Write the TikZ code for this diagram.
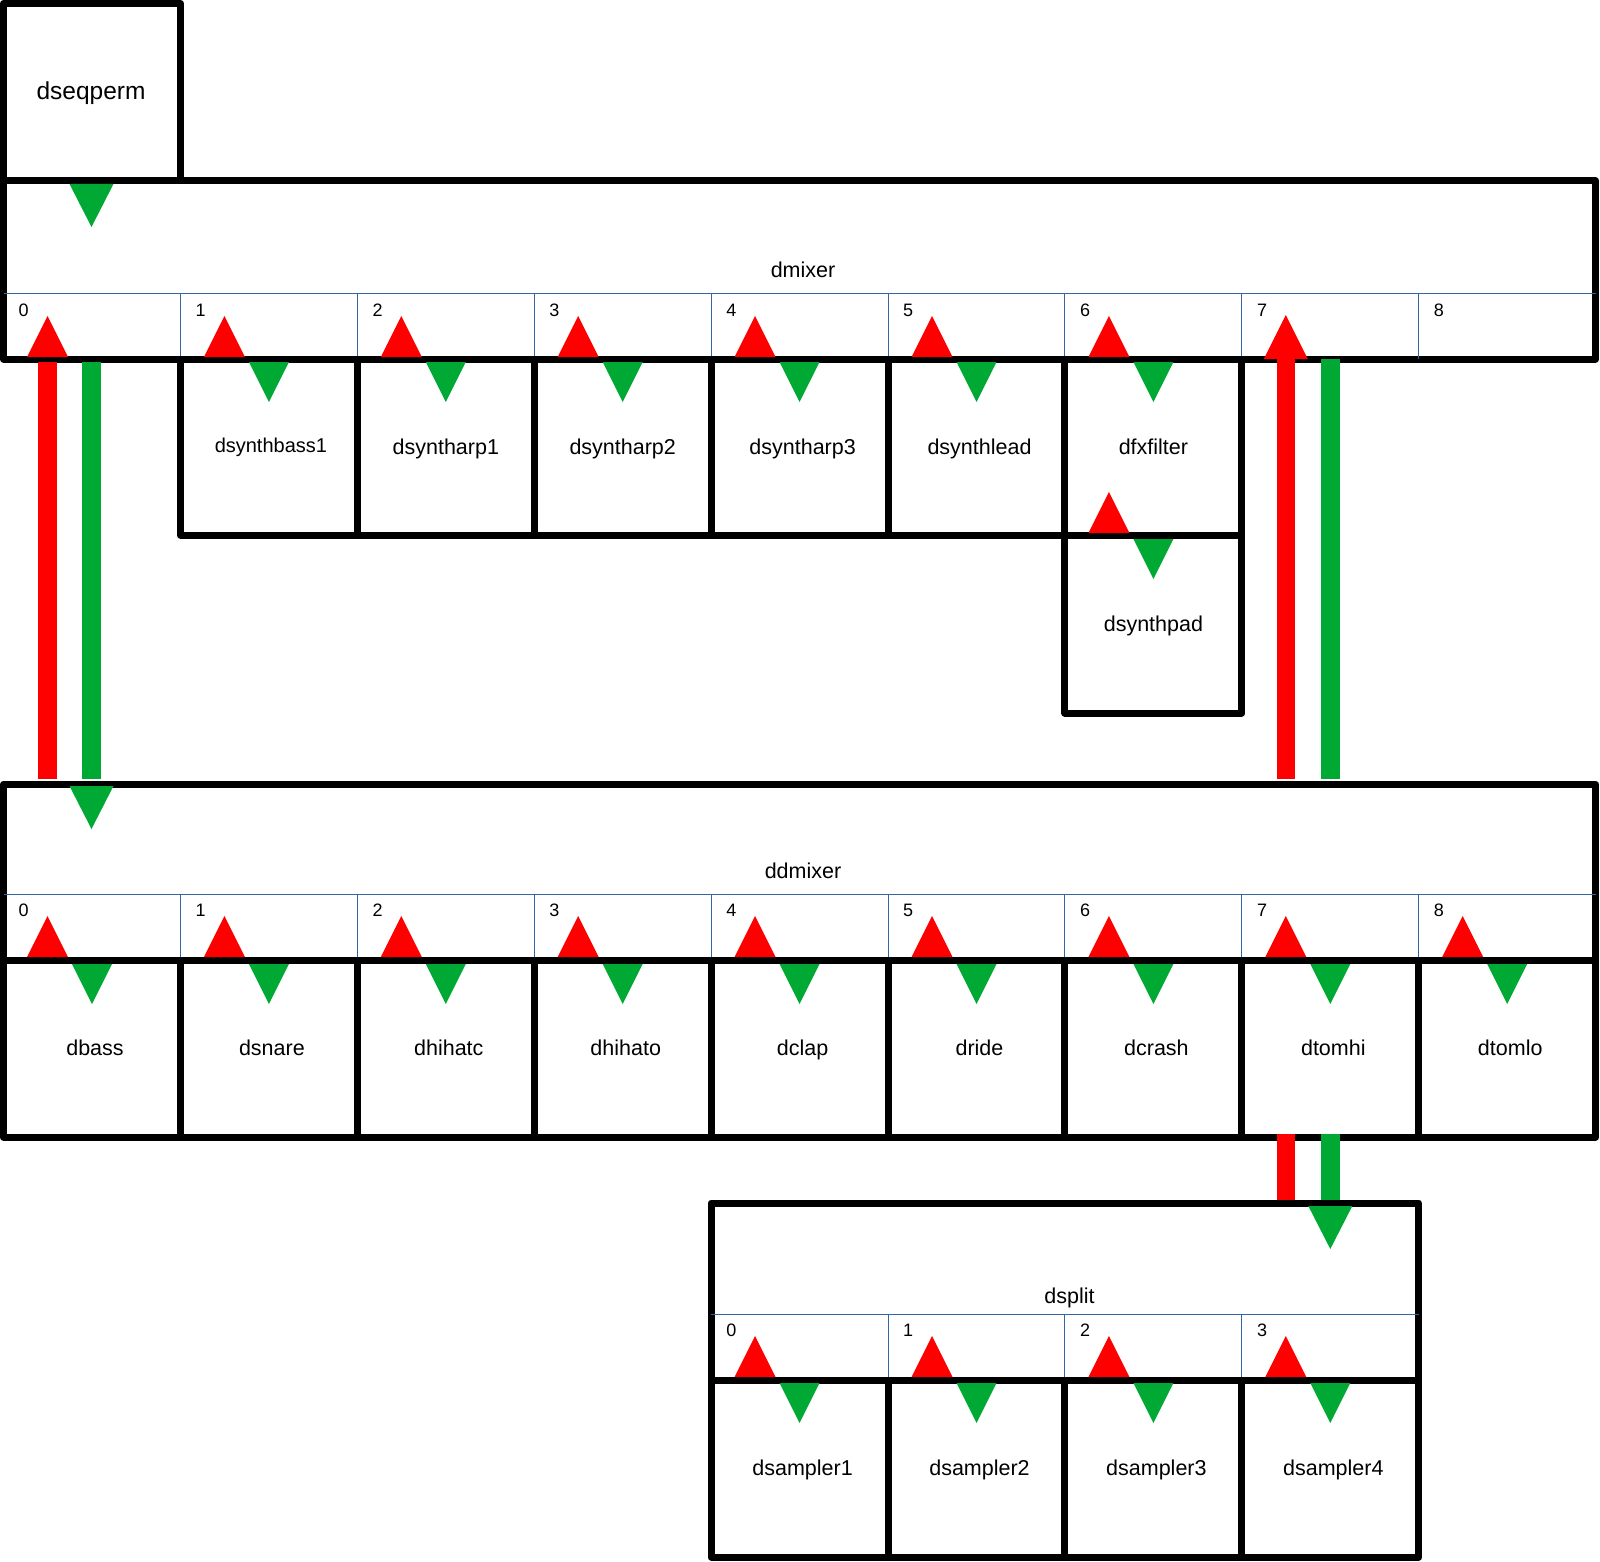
\documentclass[tikz,border=0pt]{standalone}
\usepackage{fontspec}
\setmainfont{Liberation Sans}
\definecolor{tred}{HTML}{FF0000}
\definecolor{tgreen}{HTML}{00A933}
\definecolor{tblue}{HTML}{3465A4}
\newcommand\redtri[2]{\fill[tred] ({#1-20.5},{#2}) -- ({#1},{#2-41}) -- ({#1+20.5},{#2}) -- cycle;}
\newcommand\grntri[2]{\fill[tgreen] ({#1-20},{#2}) -- ({#1},{#2+40}) -- ({#1+20},{#2}) -- cycle;}
\newcommand\grnin[2]{\fill[tgreen] ({#1-22},{#2}) -- ({#1},{#2+43}) -- ({#1+22},{#2}) -- cycle;}
\begin{document}
\begin{tikzpicture}[x=1pt,y=-1pt,
  blk/.style={draw=black, line width=7pt, line join=round, inner sep=0pt, outer sep=0pt,
    minimum width=176.9pt, minimum height=176pt},
  txt/.style={inner sep=0pt, text height=15.7pt, text depth=0pt, yshift=0.5pt, font=\fontsize{21.5}{25}\selectfont},
  bx/.style={blk, label={[txt, xshift=3pt]center:#1}},
  bz/.style={blk, label={[txt]center:#1}},
  lbl/.style={inner sep=0pt, anchor=base, font=\fontsize{21.5}{25}\selectfont},
  num/.style={inner sep=0pt, anchor=west, font=\fontsize{18}{20}\selectfont},
  port/.style={draw=tblue, line width=1pt},
  redbar/.style={draw=tred, line width=18.5pt},
  grnbar/.style={draw=tgreen, line width=18.5pt}]
\useasboundingbox (0,0) rectangle (1600,1562);

% ---------- dseqperm
\node[blk, minimum height=177.5pt, label={[txt, xshift=-1pt, yshift=1pt, text height=17.6pt, font=\fontsize{24.5}{28}\selectfont]center:dseqperm}] (dseqperm) at (92,92.25) {};

% ---------- dmixer
\node[blk, minimum width=1592.1pt, minimum height=178pt] (dmixer) at (799.55,270) {};
\node[lbl] (dmixerlbl) at (803,277.7) {dmixer};
\draw[port] (3.5,293) -- (1595.6,293);
\foreach \k in {1,...,8} \draw[port] ({3.5+176.9*\k},293) -- ({3.5+176.9*\k},359);
\foreach \k in {0,...,8} \node[num] (dmixn\k) at ({3.5+176.9*\k+15},310) {\k};

% row of synths
\node[blk, label={[txt, xshift=2pt, yshift=1pt, text height=14.6pt, font=\fontsize{20}{24}\selectfont]center:dsynthbass1}] (dsynthbass1) at ({92+176.9},447) {};
\foreach \k/\t in {2/dsyntharp1,3/dsyntharp2,6/dfxfilter}
  \node[bz=\t] (\t) at ({92+176.9*\k},447) {};
\foreach \k/\t in {4/dsyntharp3,5/dsynthlead}
  \node[bx=\t] (\t) at ({92+176.9*\k},447) {};
\node[bz=dsynthpad, minimum height=178pt] (dsynthpad) at ({92+176.9*6},624) {};

% ---------- ddmixer
\node[blk, minimum width=1592.1pt, minimum height=176pt] (ddmixer) at (799.55,872) {};
\node[lbl] (ddmixerlbl) at (803,878.3) {ddmixer};
\draw[port] (3.5,894) -- (1595.6,894);
\foreach \k in {1,...,8} \draw[port] ({3.5+176.9*\k},894) -- ({3.5+176.9*\k},960);
\foreach \k in {0,...,8} \node[num] (ddmixn\k) at ({3.5+176.9*\k+15},910) {\k};
\foreach \k/\t in {0/dbass,1/dsnare,2/dhihatc,3/dhihato,4/dclap,5/dride,6/dcrash,7/dtomhi,8/dtomlo}
  \node[bx=\t, minimum height=177pt] (\t) at ({92+176.9*\k},1048.5) {};

% ---------- dsplit
\node[blk, minimum width=707.6pt, minimum height=177pt] (dsplit) at (1064.9,1291.5) {};
\node[lbl] (dsplitlbl) at (1069.5,1303.3) {dsplit};
\draw[port] (711.1,1314) -- (1418.7,1314);
\foreach \k in {5,6,7} \draw[port] ({3.5+176.9*\k},1314) -- ({3.5+176.9*\k},1380);
\foreach \k in {0,...,3} \node[num] (dsplitn\k) at ({3.5+176.9*(\k+4)+15},1330.5) {\k};
\foreach \k/\t in {4/dsampler1,5/dsampler2,6/dsampler3,7/dsampler4}
  \node[bx=\t, minimum height=177pt] (\t) at ({92+176.9*\k},1468.5) {};

% ---------- connectors (bars)
\coordinate (c0rtop) at (47.5,362);   \coordinate (c0rbot) at (47.5,779);
\coordinate (c0gtop) at (91.5,362);   \coordinate (c0gbot) at (91.5,779);
\coordinate (c7rtop) at (1285.8,359); \coordinate (c7rbot) at (1285.8,779);
\coordinate (c7gtop) at (1330.3,359); \coordinate (c7gbot) at (1330.3,779);
\coordinate (s7rtop) at (1285.8,1134); \coordinate (s7rbot) at (1285.8,1200);
\coordinate (s7gtop) at (1330.3,1134); \coordinate (s7gbot) at (1330.3,1200);
\draw[redbar] (c0rbot) -- (c0rtop);
\draw[grnbar] (c0gtop) -- (c0gbot);
\draw[redbar] (c7rbot) -- (c7rtop);
\draw[grnbar] (c7gtop) -- (c7gbot);
\draw[redbar] (s7rbot) -- (s7rtop);
\draw[grnbar] (s7gtop) -- (s7gbot);

% ---------- triangles
% dmixer
\grnin{91.5}{184}
\foreach \k in {0,...,6} {\redtri{3.5+176.9*\k+44}{357}}
\fill[tred] (1263.8,359) -- (1285.8,315) -- (1307.8,359) -- cycle;
\foreach \k in {1,...,6} {\grntri{92+176.9*\k}{362}}
\redtri{1108.9}{533}
\grntri{1153.4}{539}
% ddmixer
\grnin{91.5}{786}
\foreach \k in {0,...,8} {\redtri{3.5+176.9*\k+44}{957}}
\foreach \k in {0,...,8} {\grntri{92+176.9*\k}{964}}
% dsplit
\grnin{1330.3}{1206}
\foreach \k in {4,...,7} {\redtri{3.5+176.9*\k+44}{1377}}
\foreach \k in {4,...,7} {\grntri{92+176.9*\k}{1383}}
\end{tikzpicture}
\end{document}
